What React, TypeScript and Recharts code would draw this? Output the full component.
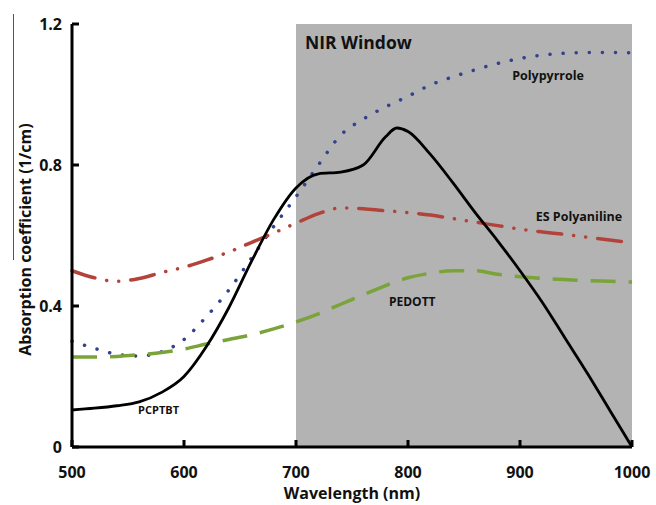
import {
  Label,
  Line,
  LineChart,
  ReferenceArea,
  ReferenceDot,
  XAxis,
  YAxis,
} from "recharts";

const wavelength = [
  500, 520, 540, 560, 580, 600, 620, 640, 660, 680, 700, 720, 740, 760, 780,
  790, 800, 820, 840, 860, 880, 900, 920, 940, 960, 980, 1000,
];
const pcptbt = [
  0.105, 0.11, 0.117, 0.128, 0.155, 0.2, 0.285, 0.395, 0.525, 0.645, 0.735,
  0.775, 0.78, 0.8, 0.88, 0.905, 0.895, 0.83, 0.75, 0.665, 0.585, 0.5, 0.41,
  0.31, 0.21, 0.105, 0.0,
];
const polypyrrole = [
  0.3, 0.28, 0.263, 0.258, 0.27, 0.305, 0.37, 0.445, 0.535, 0.625, 0.71, 0.8,
  0.885, 0.93, 0.965, 0.98, 0.995, 1.027, 1.05, 1.07, 1.088, 1.102, 1.112,
  1.117, 1.119, 1.119, 1.118,
];
const polyaniline = [
  0.5, 0.48, 0.47, 0.478, 0.495, 0.51, 0.53, 0.553, 0.58, 0.607, 0.635, 0.662,
  0.678, 0.676, 0.67, 0.668, 0.665, 0.658, 0.648, 0.638, 0.628, 0.618, 0.61,
  0.603, 0.595, 0.587, 0.58,
];
const pedott = [
  0.255, 0.255, 0.257, 0.262, 0.268, 0.278, 0.292, 0.305, 0.318, 0.335, 0.355,
  0.378, 0.405, 0.432, 0.458, 0.47, 0.48, 0.493, 0.5, 0.5, 0.49, 0.483, 0.478,
  0.475, 0.472, 0.47, 0.468,
];
const xTicks = [500, 600, 700, 800, 900, 1000];
const yTicks = [0, 0.4, 0.8, 1.2];

// series captions, anchored in data coords (left edge, vertical middle)
const captions = [
  { text: "NIR Window", x: 708, y: 1.146, size: 17.5 },
  { text: "Polypyrrole", x: 893, y: 1.055, size: 12.5 },
  { text: "ES Polyaniline", x: 914, y: 0.655, size: 12.5 },
  { text: "PEDOTT", x: 783, y: 0.411, size: 12 },
  { text: "PCPTBT", x: 559, y: 0.105, size: 11 },
];

const data = wavelength.map((w, i) => ({
  w,
  pcptbt: pcptbt[i],
  polypyrrole: polypyrrole[i],
  polyaniline: polyaniline[i],
  pedott: pedott[i],
}));

const font = "'Open Sans', 'DejaVu Sans', sans-serif";
const tickText = { fill: "#111", fontSize: 16, fontWeight: 700, fontFamily: font };
const X_MARGIN = 20;
const Y_MARGIN = 10;
const TICK_LEN = 7;

// ticks point into the plot, so draw line + label ourselves
function XTick(props: any) {
  const { x, y, payload } = props;
  const axisY = y - X_MARGIN;
  return (
    <g>
      <line x1={x} x2={x} y1={axisY} y2={axisY - TICK_LEN} stroke="#000" strokeWidth={3} />
      <text x={x} y={y} dy="0.71em" textAnchor="middle" {...tickText}>
        {payload.value}
      </text>
    </g>
  );
}

function YTick(props: any) {
  const { x, y, payload } = props;
  const axisX = x + Y_MARGIN;
  return (
    <g>
      <line x1={axisX} x2={axisX + TICK_LEN} y1={y} y2={y} stroke="#000" strokeWidth={3} />
      <text x={x} y={y} dy="0.36em" textAnchor="end" {...tickText}>
        {payload.value}
      </text>
    </g>
  );
}

export default function App() {
  return (
    <div
      style={{
        position: "absolute",
        left: 0,
        top: 0,
        width: 656,
        height: 505,
        background: "#fff",
        fontFamily: font,
      }}
    >
      <div
        style={{
          position: "absolute",
          left: 13,
          top: 14,
          width: 1,
          height: 246,
          background: "#555",
        }}
      />
      <LineChart
        width={656}
        height={505}
        data={data}
        margin={{ top: 24, right: 24, left: 0, bottom: 0 }}
      >
        <ReferenceArea
          x1={700}
          x2={1000}
          y1={0}
          y2={1.2}
          fill="#b3b3b3"
          fillOpacity={1}
          stroke="none"
        />
        <XAxis
          dataKey="w"
          type="number"
          domain={[500, 1000]}
          ticks={xTicks}
          height={58}
          axisLine={{ stroke: "#000", strokeWidth: 3 }}
          tickLine={false}
          tickSize={0}
          tickMargin={X_MARGIN}
          tick={<XTick />}
        >
          <Label
            value="Wavelength (nm)"
            position="center"
            dy={17}
            style={{ fill: "#111", fontSize: 16, fontWeight: 700, fontFamily: font }}
          />
        </XAxis>
        <YAxis
          type="number"
          domain={[0, 1.2]}
          ticks={yTicks}
          width={72}
          axisLine={{ stroke: "#000", strokeWidth: 3 }}
          tickLine={false}
          tickSize={0}
          tickMargin={Y_MARGIN}
          tick={<YTick />}
        >
          <Label
            value="Absorption coefficient (1/cm)"
            position="center"
            angle={-90}
            dx={-11}
            dy={4}
            style={{ fill: "#111", fontSize: 16, fontWeight: 700, fontFamily: font }}
          />
        </YAxis>
        <Line
          type="monotone"
          dataKey="polypyrrole"
          stroke="#33418f"
          strokeWidth={3.5}
          strokeDasharray="0.1 13"
          strokeLinecap="round"
          dot={false}
          activeDot={false}
          isAnimationActive={false}
        />
        <Line
          type="monotone"
          dataKey="polyaniline"
          stroke="#b2433b"
          strokeWidth={3.5}
          strokeDasharray="24 12 0.1 12 0.1 12"
          strokeLinecap="round"
          dot={false}
          activeDot={false}
          isAnimationActive={false}
        />
        <Line
          type="monotone"
          dataKey="pedott"
          stroke="#7aa33a"
          strokeWidth={3.5}
          strokeDasharray="25 13"
          dot={false}
          activeDot={false}
          isAnimationActive={false}
        />
        <Line
          type="monotone"
          dataKey="pcptbt"
          stroke="#000"
          strokeWidth={2.8}
          dot={false}
          activeDot={false}
          isAnimationActive={false}
        />
        {captions.map((c) => (
          <ReferenceDot
            key={c.text}
            x={c.x}
            y={c.y}
            r={0}
            stroke="none"
            fill="none"
            label={{
              value: c.text,
              position: "right",
              offset: 0,
              style: {
                fill: "#111",
                fontSize: c.size,
                fontWeight: 700,
                fontFamily: font,
              },
            }}
          />
        ))}
      </LineChart>
    </div>
  );
}
